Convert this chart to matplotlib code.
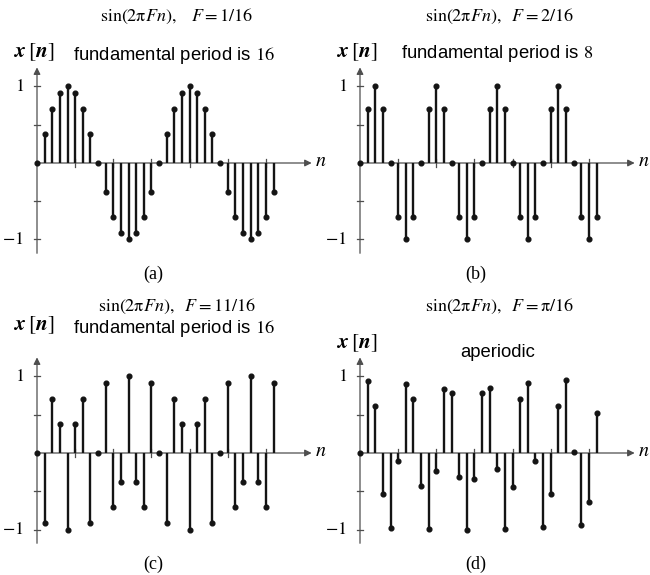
import numpy as np
import matplotlib.pyplot as plt
from matplotlib.patches import FancyArrowPatch

plt.rcParams['mathtext.fontset'] = 'stix'

n = np.arange(32)

# sample values
x_a = [0, 0.38, 0.71, 0.92, 1, 0.92, 0.71, 0.38, 0, -0.38, -0.71, -0.92, -1, -0.92, -0.71, -0.38,
       0, 0.38, 0.71, 0.92, 1, 0.92, 0.71, 0.38, 0, -0.38, -0.71, -0.92, -1, -0.92, -0.71, -0.38]
x_b = [0, 0.71, 1, 0.71, 0, -0.71, -1, -0.71, 0, 0.71, 1, 0.71, 0, -0.71, -1, -0.71,
       0, 0.71, 1, 0.71, 0, -0.71, -1, -0.71, 0, 0.71, 1, 0.71, 0, -0.71, -1, -0.71]
x_c = [0, -0.92, 0.71, 0.38, -1, 0.38, 0.71, -0.92, 0, 0.92, -0.71, -0.38, 1, -0.38, -0.71, 0.92,
       0, -0.92, 0.71, 0.38, -1, 0.38, 0.71, -0.92, 0, 0.92, -0.71, -0.38, 1, -0.38, -0.71, 0.92]
x_d = [0, 0.94, 0.62, -0.53, -0.98, -0.11, 0.90, 0.71, -0.43, -0.99, -0.23, 0.84, 0.79, -0.32, -1.0, -0.34,
       0.78, 0.85, -0.21, -0.99, -0.44, 0.70, 0.91, -0.10, -0.97, -0.54, 0.61, 0.95, 0.01, -0.94, -0.64, 0.52]

series = [x_a, x_b, x_c, x_d]
titles = [r'$\sin(2\mathrm{\pi} Fn),\quad F = 1/16$',
          r'$\sin(2\mathrm{\pi} Fn),\ \ F = 2/16$',
          r'$\sin(2\mathrm{\pi} Fn),\ \ F = 11/16$',
          r'$\sin(2\mathrm{\pi} Fn),\ \ F = \mathrm{\pi}/16$']
notes = ['fundamental period is $16$', 'fundamental period is $8$',
         'fundamental period is $16$', 'aperiodic']
captions = ['(a)', '(b)', '(c)', '(d)']

# layout (pixels): origin of each panel, scale per unit
W, H = 650, 575
ux, uy = 7.63, 76.5
x_lo, x_hi, y_lo, y_hi = -4.8, 38.5, -1.6, 2.0
origins = [(37, 163), (360, 163), (37, 453), (360, 453)]
xn_y = [1.45, 1.45, 1.67, 1.44]
note_y = [1.41, 1.43, 1.63, 1.31]

axis_col = '#4e4e4e'
stem_col = '#141414'

fig = plt.figure(figsize=(6.5, 5.75), dpi=100)

for k in range(4):
    ox, oy = origins[k]
    left = (ox + x_lo * ux) / W
    bottom = (H - (oy - y_lo * uy)) / H
    ax = fig.add_axes([left, bottom, (x_hi - x_lo) * ux / W, (y_hi - y_lo) * uy / H])
    ax.set_xlim(x_lo, x_hi)
    ax.set_ylim(y_lo, y_hi)
    ax.axis('off')

    # axes with arrows
    ax.add_patch(FancyArrowPatch((0, 0), (36, 0), arrowstyle='-|>', mutation_scale=10,
                                 color=axis_col, lw=0.9, shrinkA=0, shrinkB=0, zorder=1))
    ax.add_patch(FancyArrowPatch((0, -1.18), (0, 1.25), arrowstyle='-|>', mutation_scale=10,
                                 color=axis_col, lw=0.9, shrinkA=0, shrinkB=0, zorder=1))
    for t in [-1, -0.5, 0.5, 1]:
        ax.plot([-0.45, 0.45], [t, t], color=axis_col, lw=0.9, zorder=1)
    for t in range(5, 31, 5):
        ax.plot([t, t], [-0.05, 0.05], color=axis_col, lw=0.9, zorder=1)

    # stems
    vals = series[k]
    ax.vlines(n, 0, vals, color=stem_col, lw=1.7, zorder=2)
    ax.plot(n, vals, 'o', ms=3.4, color=stem_col, zorder=3)

    # text
    ax.text(-1.7, 1, '$1$', ha='right', va='center', fontsize=13)
    ax.text(-1.7, -1, '$-1$', ha='right', va='center', fontsize=13)
    ax.text(37.2, 0.03, '$n$', ha='center', va='center', fontsize=14.5)
    ax.text(18.3, 1.91, titles[k], ha='center', va='center', fontsize=13)
    ax.text(-0.4, xn_y[k], r'$\mathbfit{x}\,[\mathbfit{n}]$', ha='center', va='center', fontsize=15.5)
    ax.text(18.0, note_y[k], notes[k], ha='center', va='center', fontsize=13.3,
            family='Liberation Sans')
    ax.text(15.2, -1.45, captions[k], ha='center', va='center', fontsize=13,
            family='Liberation Serif')

fig.savefig('out.png', dpi=100)
